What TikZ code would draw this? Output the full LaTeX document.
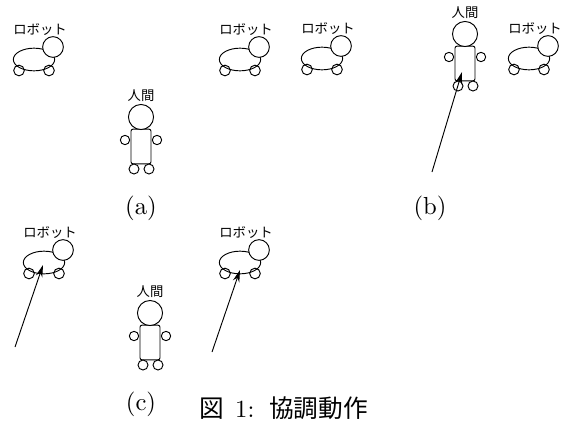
\documentclass[tikz,border=0pt]{standalone}
\usepackage{fontspec}
\newfontfamily\jp{Noto Sans CJK JP}
\newfontfamily\lmten{lmroman10-regular}[Extension=.otf]
\usetikzlibrary{arrows.meta,shapes.geometric}

\begin{document}
\begin{tikzpicture}[x=0.75pt,y=-0.75pt,
    line width=0.7pt,
    jplabel/.style={font=\jp\fontsize{10}{12}\selectfont, inner sep=0pt},
    sublabel/.style={font=\lmten\fontsize{18.5}{20}\selectfont, inner sep=0pt},
    wheel/.style={draw, fill=white, circle, inner sep=0pt, minimum size=8pt},
    joint/.style={draw, fill=white, circle, inner sep=0pt, minimum size=7pt},
    foot/.style={draw, fill=white, circle, inner sep=0pt, minimum size=7.5pt},
    movearrow/.style={-{Stealth[length=9pt,width=5pt]}},
    robot/.pic={
      \node[wheel] (-wl) at (-15,11) {};
      \node[wheel] (-wr) at (15,11) {};
      \node[draw, ellipse, minimum width=31pt, minimum height=17pt, inner sep=0pt] (-body) at (0,0) {};
      \node[draw, fill=white, circle, minimum size=15.5pt, inner sep=0pt] (-head) at (19,-12.5) {};
      \node[jplabel] (-label) at (6,-30) {ロボット};
    },
    human/.pic={
      \node[draw, rounded corners=1.5pt, minimum width=15pt, minimum height=26pt, inner sep=0pt] (-body) at (0,29.5) {};
      \node[joint] (-al) at (-16,23) {};
      \node[joint] (-ar) at (16,23) {};
      \node[foot] (-fl) at (-7,52) {};
      \node[foot] (-fr) at (8,52) {};
      \node[draw, fill=white, circle, minimum size=18.8pt, inner sep=0pt] (-head) at (0,0) {};
      \node[jplabel] (-label) at (0,-21) {人間};
    }]
  \useasboundingbox (0,0) rectangle (563,425);

  % (a) two robots and one human standing apart
  \pic (ra1) at (34,59.5) {robot};
  \pic (ra2) at (240,59.5) {robot};
  \pic (ha) at (141,117) {human};
  \node[sublabel] (la) at (141,208) {(a)};

  % (b) the human walks up to the robots
  \pic (rb1) at (322,58.5) {robot};
  \pic (rb2) at (529,58.5) {robot};
  \pic (hb) at (465,34) {human};
  \coordinate (sb) at (432,172);
  \coordinate (tb) at (462,72);
  \draw[movearrow] (sb) -- (tb);
  \node[sublabel] (lb) at (430,208) {(b)};

  % (c) both robots move together
  \pic (rc1) at (44,262.5) {robot};
  \pic (rc2) at (240,262.5) {robot};
  \pic (hc) at (150,313) {human};
  \coordinate (sc1) at (15,347);
  \coordinate (tc1) at (43,265);
  \coordinate (sc2) at (212,352);
  \coordinate (tc2) at (240,270);
  \draw[movearrow] (sc1) -- (tc1);
  \draw[movearrow] (sc2) -- (tc2);
  \node[sublabel] (lc) at (141,404) {(c)};

  % caption
  \node[font=\lmten\fontsize{18.5}{20}\selectfont, inner sep=0pt, anchor=west] (cap) at (199,408)
    {{\jp 図}\hspace{0.45em}1:\hspace{0.6em}{\jp 協調動作}};
\end{tikzpicture}
\end{document}
